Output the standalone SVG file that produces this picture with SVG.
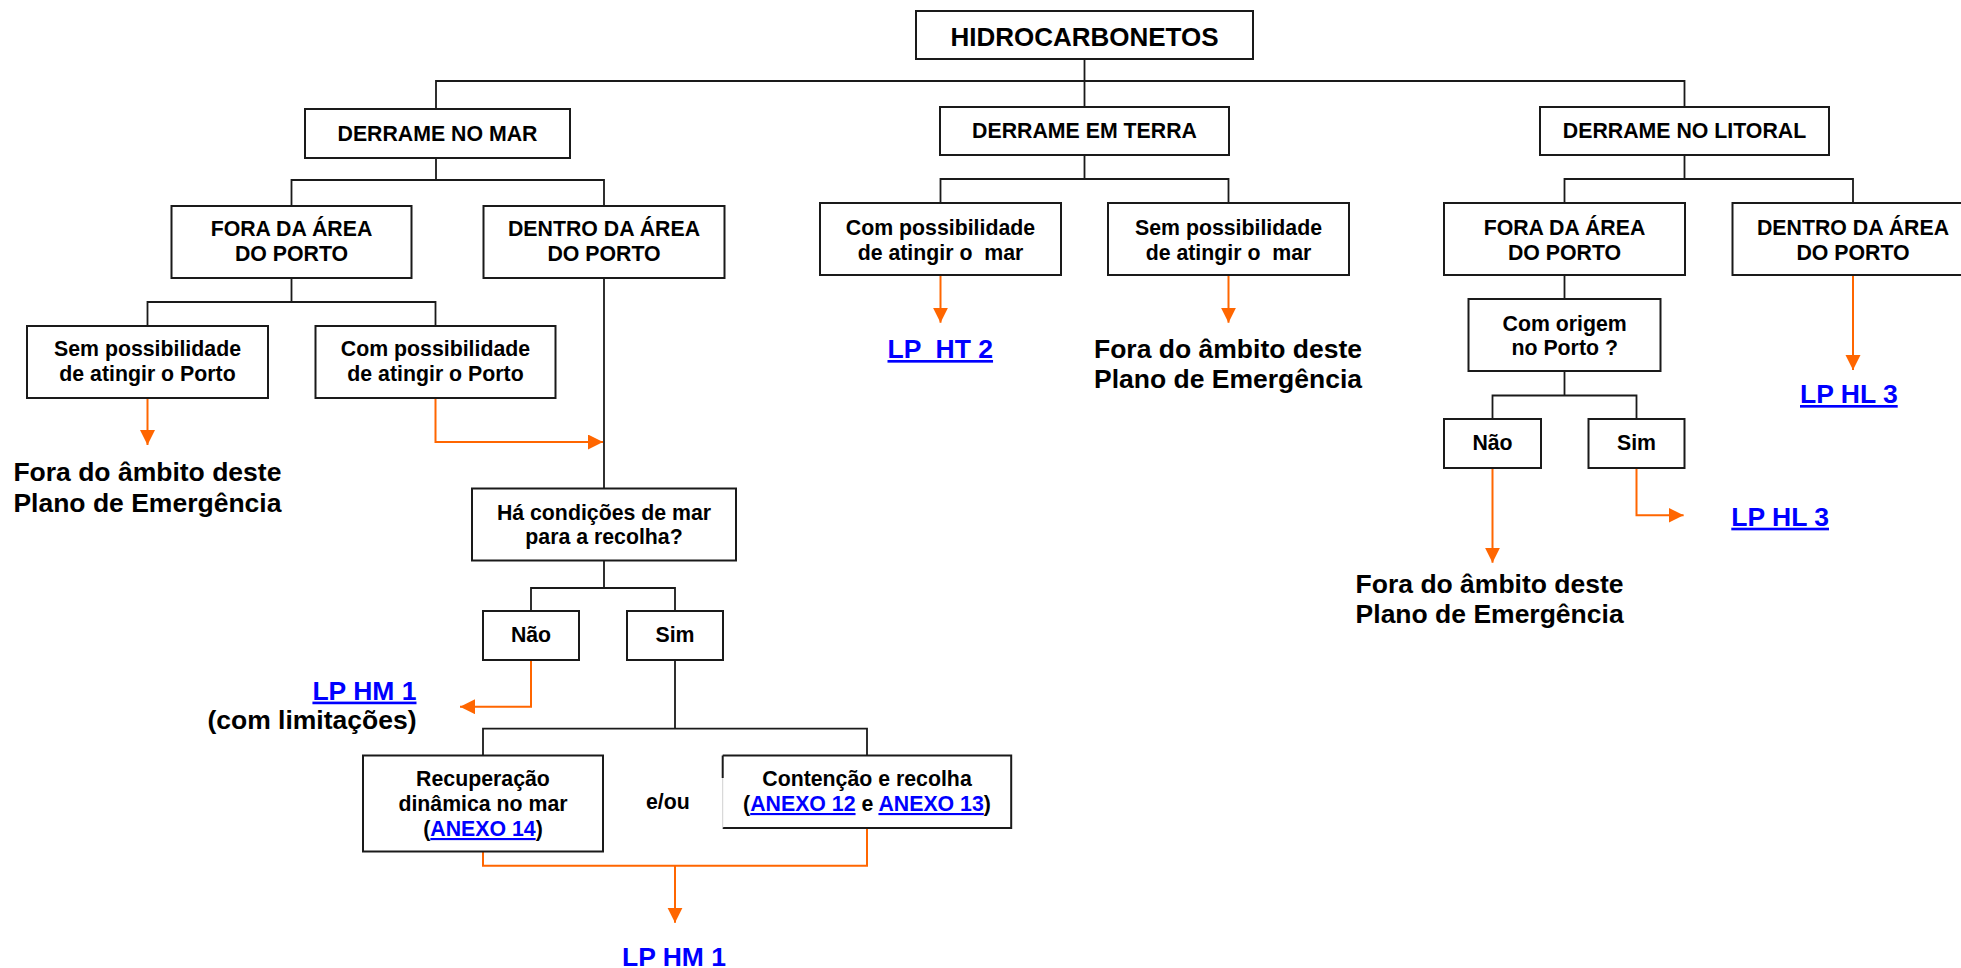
<svg xmlns="http://www.w3.org/2000/svg" width="1961" height="968" viewBox="0 0 1961 968">
<defs>
<marker id="ah" markerUnits="userSpaceOnUse" markerWidth="16" markerHeight="16" refX="15" refY="7.5" orient="auto">
<path d="M0,0 L15,7.5 L0,15 z" fill="#ff6600"/>
</marker>
<style>
text{font-family:"Liberation Sans",Arial,sans-serif;font-weight:bold;fill:#000}
.b{fill:#fff;stroke:#1a1a1a;stroke-width:2}
.t{font-size:21.3px;text-anchor:middle}
.big{font-size:26.5px}
.lk{fill:#0000ff;text-decoration:underline}
.ln{fill:none;stroke:#1a1a1a;stroke-width:1.8}
.or{fill:none;stroke:#ff6600;stroke-width:2;marker-end:url(#ah)}
.or2{fill:none;stroke:#ff6600;stroke-width:2}
</style>
</defs>
<rect width="1961" height="968" fill="#fff"/>
<g id="connectors">
<path class="ln" d="M1084.5,59 V107"/>
<path class="ln" d="M436,109 V81 H1684.5 V107"/>
<path class="ln" d="M436,158 V180 M291.5,206 V180 H604 V206"/>
<path class="ln" d="M1084.5,155 V179 M940.5,203 V179 H1228.5 V203"/>
<path class="ln" d="M1684.5,155 V179 M1564.5,203 V179 H1853 V203"/>
<path class="ln" d="M291.5,278 V302 M147.5,326 V302 H435.5 V326"/>
<path class="ln" d="M604,278 V488.5"/>
<path class="ln" d="M1564.5,275 V299"/>
<path class="ln" d="M1564.5,371 V395.5 M1492.5,419 V395.5 H1636.5 V419"/>
<path class="ln" d="M604,560.5 V588 M531,611 V588 H675 V611"/>
<path class="ln" d="M675,660 V728.6 M483,755.5 V728.6 H867 V755.5"/>
<path class="or" d="M147.5,398 V445"/>
<path class="or" d="M435.5,398 V442 H603"/>
<path class="or" d="M940.5,275 V322.7"/>
<path class="or" d="M1228.5,275 V322.7"/>
<path class="or" d="M1853,275 V370"/>
<path class="or" d="M1492.5,468 V562.7"/>
<path class="or" d="M1636.5,468 V515.3 H1683.6"/>
<path class="or" d="M531,660 V706.7 H460"/>
<path class="or2" d="M483,851.7 V865.7 H867 V828"/>
<path class="or" d="M675,865.7 V922.7"/>
</g>
<g id="hidro"><rect class="b" x="916" y="11" width="337" height="48"/><text class="t" style="font-size:26px" x="1084.5" y="46">HIDROCARBONETOS</text></g>
<g id="mar"><rect class="b" x="305" y="109" width="265" height="49"/><text class="t" x="437.5" y="141">DERRAME NO MAR</text></g>
<g id="terra"><rect class="b" x="940" y="107" width="289" height="48"/><text class="t" x="1084.5" y="138">DERRAME EM TERRA</text></g>
<g id="litoral"><rect class="b" x="1540" y="107" width="289" height="48"/><text class="t" x="1684.5" y="138">DERRAME NO LITORAL</text></g>
<g id="mar_fora"><rect class="b" x="171.5" y="206" width="240" height="72"/><text class="t" x="291.5" y="236">FORA DA ÁREA</text><text class="t" x="291.5" y="260.5">DO PORTO</text></g>
<g id="mar_dentro"><rect class="b" x="483.5" y="206" width="241" height="72"/><text class="t" x="604" y="236">DENTRO DA ÁREA</text><text class="t" x="604" y="260.5">DO PORTO</text></g>
<g id="terra_com"><rect class="b" x="820" y="203" width="241" height="72"/><text class="t" x="940.5" y="234.5">Com possibilidade</text><text class="t" x="940.5" y="259.5" xml:space="preserve">de atingir o  mar</text></g>
<g id="terra_sem"><rect class="b" x="1108" y="203" width="241" height="72"/><text class="t" x="1228.5" y="234.5">Sem possibilidade</text><text class="t" x="1228.5" y="259.5" xml:space="preserve">de atingir o  mar</text></g>
<g id="lit_fora"><rect class="b" x="1444" y="203" width="241" height="72"/><text class="t" x="1564.5" y="234.5">FORA DA ÁREA</text><text class="t" x="1564.5" y="259.5">DO PORTO</text></g>
<g id="lit_dentro"><rect class="b" x="1732.5" y="203" width="241" height="72"/><text class="t" x="1853" y="234.5">DENTRO DA ÁREA</text><text class="t" x="1853" y="259.5">DO PORTO</text></g>
<g id="mar_sem"><rect class="b" x="27" y="326" width="241" height="72"/><text class="t" x="147.5" y="356">Sem possibilidade</text><text class="t" x="147.5" y="381">de atingir o Porto</text></g>
<g id="mar_com"><rect class="b" x="315.5" y="326" width="240" height="72"/><text class="t" x="435.5" y="356">Com possibilidade</text><text class="t" x="435.5" y="381">de atingir o Porto</text></g>
<g id="com_origem"><rect class="b" x="1468.5" y="299" width="192" height="72"/><text class="t" x="1564.7" y="331">Com origem</text><text class="t" x="1564.7" y="355">no Porto ?</text></g>
<g id="lit_nao"><rect class="b" x="1444" y="419" width="97" height="49"/><text class="t" x="1492.5" y="450">Não</text></g>
<g id="lit_sim"><rect class="b" x="1588.5" y="419" width="96" height="49"/><text class="t" x="1636.5" y="450">Sim</text></g>
<g id="ha_cond"><rect class="b" x="472" y="488.5" width="264" height="72"/><text class="t" x="604" y="519.6">Há condições de mar</text><text class="t" x="604" y="544">para a recolha?</text></g>
<g id="mar_nao"><rect class="b" x="483" y="611" width="96" height="49"/><text class="t" x="531" y="642">Não</text></g>
<g id="mar_sim"><rect class="b" x="627" y="611" width="96" height="49"/><text class="t" x="675" y="642">Sim</text></g>
<g id="recup"><rect class="b" x="363" y="755.5" width="240" height="96"/><text class="t" x="483" y="786">Recuperação</text><text class="t" x="483" y="811">dinâmica no mar</text><text class="t" x="483" y="836">(<tspan class="lk">ANEXO 14</tspan>)</text></g>
<g id="conten"><path d="M722.7,755.5 H1011.2 V828 H722.7" fill="#fff" stroke="#1a1a1a" stroke-width="2"/><path d="M722.7,778 V828" stroke="#d0d0d0" stroke-width="1"/><path d="M722.7,755.5 V778" stroke="#1a1a1a" stroke-width="2"/><text class="t" x="867" y="786">Contenção e recolha</text><text class="t" x="867" y="811">(<tspan class="lk">ANEXO 12</tspan> e <tspan class="lk">ANEXO 13</tspan>)</text></g>
<g id="labels">
<text class="t" style="text-anchor:start" x="646" y="809">e/ou</text>
<text class="big lk" x="887.5" y="358" xml:space="preserve">LP  HT 2</text>
<text class="big" x="1094" y="358.3">Fora do âmbito deste</text>
<text class="big" x="1094" y="388.3">Plano de Emergência</text>
<text class="big lk" x="1800" y="403">LP HL 3</text>
<text class="big" x="13.4" y="481.2">Fora do âmbito deste</text>
<text class="big" x="13.4" y="511.6">Plano de Emergência</text>
<text class="big lk" x="1731.3" y="525.7">LP HL 3</text>
<text class="big" x="1355.6" y="592.7">Fora do âmbito deste</text>
<text class="big" x="1355.6" y="623.3">Plano de Emergência</text>
<text class="big lk" style="text-anchor:end" x="416.5" y="699.6">LP HM 1</text>
<text class="big" style="text-anchor:end" x="416.5" y="729.3">(com limitações)</text>
<text class="big lk" style="text-anchor:middle;text-decoration:none" x="674" y="966">LP HM 1</text>
</g>
</svg>
